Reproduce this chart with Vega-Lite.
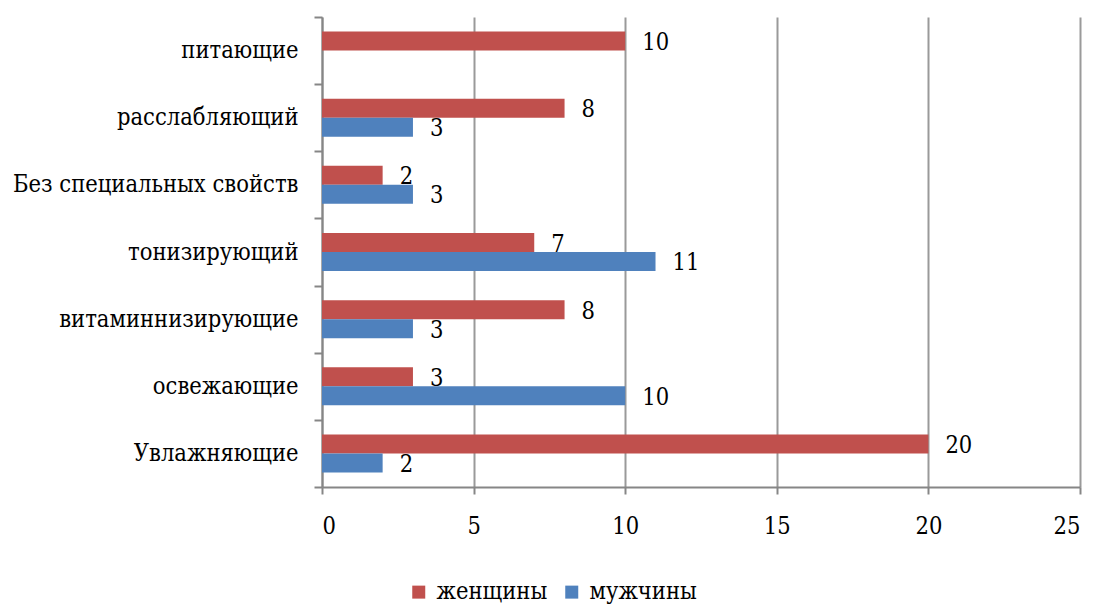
{
  "$schema": "https://vega.github.io/schema/vega-lite/v6.json",
  "width": 758,
  "height": 470,
  "autosize": {"type": "none"},
  "padding": {"left": 322, "top": 17, "right": 14, "bottom": 117},
  "background": "white",
  "config": {
    "view": {"stroke": null},
    "font": "DejaVu Serif Condensed"
  },
  "data": {
    "values": [
      {"cat": "питающие", "sex": "женщины", "v": 10},
      {"cat": "расслабляющий", "sex": "женщины", "v": 8},
      {"cat": "расслабляющий", "sex": "мужчины", "v": 3},
      {"cat": "Без специальных свойств", "sex": "женщины", "v": 2},
      {"cat": "Без специальных свойств", "sex": "мужчины", "v": 3},
      {"cat": "тонизирующий", "sex": "женщины", "v": 7},
      {"cat": "тонизирующий", "sex": "мужчины", "v": 11},
      {"cat": "витаминнизирующие", "sex": "женщины", "v": 8},
      {"cat": "витаминнизирующие", "sex": "мужчины", "v": 3},
      {"cat": "освежающие", "sex": "женщины", "v": 3},
      {"cat": "освежающие", "sex": "мужчины", "v": 10},
      {"cat": "Увлажняющие", "sex": "женщины", "v": 20},
      {"cat": "Увлажняющие", "sex": "мужчины", "v": 2}
    ]
  },
  "encoding": {
    "y": {
      "field": "cat", "type": "nominal", "sort": null, "title": null,
      "scale": {"paddingInner": 0, "paddingOuter": 0},
      "axis": {
        "tickBand": "extent", "tickSize": 8, "tickColor": "#868686", "tickWidth": 2,
        "domainColor": "#868686", "domainWidth": 2,
        "labelFontSize": 23.5, "labelColor": "#000000", "labelPadding": 16,
        "labelFont": "DejaVu Serif Condensed", "labelLimit": 400
      }
    },
    "yOffset": {
      "field": "sex", "type": "nominal",
      "scale": {"domain": ["женщины", "мужчины"], "paddingInner": 0, "paddingOuter": 0.767}
    },
    "x": {
      "field": "v", "type": "quantitative", "title": null,
      "scale": {"domain": [0, 25], "nice": false},
      "axis": {
        "values": [0, 5, 10, 15, 20, 25], "grid": true, "gridColor": "#9a9a9a", "gridWidth": 2,
        "tickSize": 7, "tickColor": "#868686", "tickWidth": 2,
        "domainColor": "#868686", "domainWidth": 2,
        "labelFontSize": 23.5, "labelColor": "#000000", "labelPadding": 20,
        "labelFont": "DejaVu Serif Condensed"
      }
    }
  },
  "layer": [
    {
      "mark": {"type": "bar"},
      "encoding": {
        "color": {
          "field": "sex", "type": "nominal", "title": null,
          "scale": {"domain": ["женщины", "мужчины"], "range": ["#C0504D", "#4F81BD"]},
          "legend": {
            "orient": "none", "direction": "horizontal", "legendX": 85, "legendY": 563,
            "padding": 0, "symbolType": "square", "symbolSize": 169, "symbolStrokeWidth": 0,
            "labelFontSize": 23.5, "labelFont": "DejaVu Serif Condensed", "labelColor": "#000000",
            "columnPadding": 12, "labelOffset": 6
          }
        }
      }
    },
    {
      "mark": {"type": "text", "align": "left", "baseline": "middle", "dx": 17, "dy": 2, "fontSize": 23.5, "font": "DejaVu Serif Condensed", "color": "#000000"},
      "encoding": {"text": {"field": "v", "type": "quantitative"}}
    }
  ]
}
